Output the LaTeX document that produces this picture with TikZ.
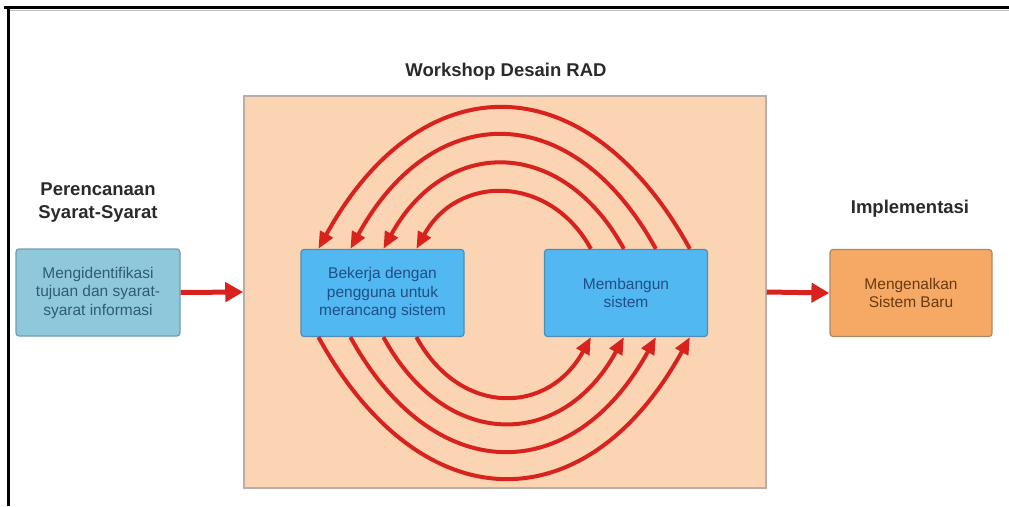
\documentclass[tikz,border=0pt]{standalone}
\usepackage{fontspec}
\setmainfont{Liberation Sans}
\usetikzlibrary{arrows.meta,calc}
\definecolor{peach}{HTML}{FBD4B4}
\definecolor{peachedge}{HTML}{B9AFA6}
\definecolor{lblue}{HTML}{8FC8DB}
\definecolor{lblueedge}{HTML}{6E9DB0}
\definecolor{mblue}{HTML}{52B8F2}
\definecolor{mblueedge}{HTML}{4E8DB6}
\definecolor{orng}{HTML}{F5A964}
\definecolor{orngedge}{HTML}{A98866}
\definecolor{arrred}{HTML}{D8221E}
\definecolor{txtblue}{HTML}{1F4F86}
\definecolor{txtteal}{HTML}{2E5C78}
\definecolor{txtbrown}{HTML}{6A3A12}
\definecolor{titlegray}{HTML}{2A2A2A}
\tikzset{
  boxbase/.style={rectangle, rounded corners=3pt, line width=1.2pt, align=center,
    minimum height=87pt, inner sep=2pt, font=\fontsize{15.5}{18.5}\selectfont},
  leftbox/.style={boxbase, fill=lblue, draw=lblueedge, text=txtteal, minimum width=164pt},
  midbox/.style={boxbase, fill=mblue, draw=mblueedge, text=txtblue, minimum width=163pt},
  rightbox/.style={boxbase, fill=orng, draw=orngedge, text=txtbrown, minimum width=162pt},
  heading/.style={font=\fontsize{18.5}{23}\selectfont\bfseries, text=titlegray, align=center},
  flowarrow/.style={draw=arrred, line width=5pt, -{Triangle[length=18pt,width=19pt]}},
  looparrow/.style={draw=arrred, line width=4pt, -{Triangle[length=17pt,width=14pt]}},
}
\begin{document}
\begin{tikzpicture}[x=1pt,y=-1pt]
\useasboundingbox (0,0) rectangle (1009,506);
% outer frame (top and left only)
\draw[line width=3pt] (4,7) -- (1009,7);
\draw[gray!50, line width=0.8pt] (9,10) -- (1009,10);
\draw[line width=3pt] (8,6) -- (8,506);
% workshop area
\node[rectangle, fill=peach, draw=peachedge, line width=1.5pt, minimum width=522pt, minimum height=392pt, inner sep=0pt] (ws) at (505,292) {};
\node[heading] (wst) at (506,72) {Workshop Desain RAD};
% left
\node[heading] (pt) at (98,203) {Perencanaan\\Syarat-Syarat};
\node[leftbox] (lb) at (98,292.5) {Mengidentifikasi\\tujuan dan syarat-\\syarat informasi};
% middle
\node[midbox] (bk) at (382.5,293) {Bekerja dengan\\pengguna untuk\\merancang sistem};
\node[midbox] (mb) at (626,293) {Membangun\\sistem};
% right
\node[heading] (it) at (910,209) {Implementasi};
\node[rightbox] (rb) at (911,293) {Mengenalkan\\Sistem Baru};
% flow arrows
\draw[flowarrow] (lb.east) -- (ws.west);
\draw[flowarrow] (ws.east) -- (rb.west);
% attachment points
\foreach \i/\dl/\dr in {1/18/146, 2/50/112, 3/83/80, 4/116/47} {
  \coordinate (tl\i) at ($(bk.north west)+(\dl,0)$);
  \coordinate (bl\i) at ($(bk.south west)+(\dl,0)$);
  \coordinate (tr\i) at ($(mb.north west)+(\dr,0)$);
  \coordinate (br\i) at ($(mb.south west)+(\dr,0)$);
}
% top loops: from Membangun back to Bekerja
\foreach \i/\h/\d in {1/187/103, 2/151/83, 3/113/62, 4/75/41} {
  \draw[looparrow] (tr\i) .. controls +(-\d,-\h) and +(\d,-\h) .. (tl\i);
}
% bottom loops: from Bekerja to Membangun
\foreach \i/\h/\d in {1/187/103, 2/151/83, 3/114/62, 4/79/43} {
  \draw[looparrow] (bl\i) .. controls +(\d,\h) and +(-\d,\h) .. (br\i);
}
\end{tikzpicture}
\end{document}
